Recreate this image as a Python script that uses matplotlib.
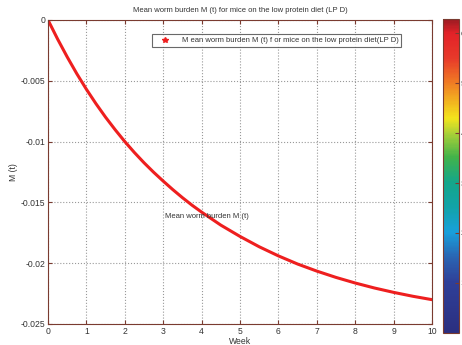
import numpy as np
import matplotlib
matplotlib.use("Agg")
import matplotlib.pyplot as plt
from matplotlib.colors import Normalize, LinearSegmentedColormap
from matplotlib.cm import ScalarMappable

weeks = [0, 0.25, 0.5, 0.75, 1, 1.25, 1.5, 1.75, 2, 2.25, 2.5, 2.75, 3, 3.25, 3.5, 3.75, 4,
         4.5, 5, 5.5, 6, 6.5, 7, 7.5, 8, 8.5, 9, 9.5, 10]
burden = [0, -0.00157, -0.00304, -0.00442, -0.00570, -0.00689, -0.00800, -0.00903,
          -0.01000, -0.01090, -0.01174, -0.01252, -0.01325, -0.01395, -0.01461,
          -0.01523, -0.01580, -0.01687, -0.01780, -0.01865, -0.01940, -0.02007,
          -0.02065, -0.02117, -0.02163, -0.02204, -0.02240, -0.02272, -0.02300]
xticks = [0, 1, 2, 3, 4, 5, 6, 7, 8, 9, 10]
yticks = [0, -0.005, -0.01, -0.015, -0.02, -0.025]
yticklabels = ["0", "-0.005", "-0.01", "-0.015", "-0.02", "-0.025"]
cbar_ticks = [1, 2, 3, 4, 5, 6]

plt.rcParams['font.family'] = ['Liberation Sans', 'DejaVu Sans']
fig = plt.figure(figsize=(4.62, 3.45), dpi=100)
ax = fig.add_axes([0.1039, 0.0609, 0.8312, 0.8812])
spine_c = '#7a3b30'
txt_c = '#333333'

ax.plot(weeks, burden, color='#ee1f1f', lw=2.2, solid_capstyle='round',
        solid_joinstyle='round')
ax.plot([], [], linestyle='none', marker='*', color='#ee1f1f', markersize=4,
        label='M ean worm burden M (t) f or mice on the low protein diet(LP D)')

ax.set_xlim(0, 10)
ax.set_ylim(-0.025, 0)
ax.set_xticks(xticks)
ax.set_yticks(yticks)
ax.set_yticklabels(yticklabels)
ax.grid(True, linestyle=':', color='#999999', lw=0.8)
ax.tick_params(direction='in', length=3, labelsize=6.2, colors=spine_c, labelcolor=txt_c,
               top=True, right=True, pad=2)
for s in ax.spines.values():
    s.set_color(spine_c)
    s.set_linewidth(0.8)

ax.set_title('Mean worm burden M (t) for mice on the low protein diet (LP D)',
             fontsize=5.5, color=txt_c, pad=6)
ax.set_xlabel('Week', fontsize=6.2, color=txt_c, labelpad=1)
ax.set_ylabel('M (t)', fontsize=6.2, color=txt_c, labelpad=2)
ax.text(3.05, -0.0163, 'Mean worm burden M (t)', fontsize=5.5, color=txt_c)

leg = ax.legend(loc='upper right', bbox_to_anchor=(0.93, 0.965), fontsize=5.5,
                frameon=True, fancybox=False, handlelength=2.6, borderpad=0.35,
                labelcolor=txt_c, handletextpad=0.9)
leg.get_frame().set_edgecolor('#444444')
leg.get_frame().set_linewidth(0.8)

cmap = LinearSegmentedColormap.from_list('mjet', [
    (0.0, '#2b2f80'), (0.16, '#2f3f98'), (0.24, '#2a64b2'), (0.32, '#18a0db'),
    (0.40, '#12a3a8'), (0.48, '#14a68a'), (0.56, '#42b34a'), (0.64, '#b2d236'),
    (0.685, '#f4e41c'), (0.80, '#f07a24'), (0.875, '#e83a2a'), (0.955, '#e32228'),
    (1.0, '#9b1b22')])

cax = fig.add_axes([0.959, 0.035, 0.0346, 0.91])
sm = ScalarMappable(norm=Normalize(0, 2 * np.pi), cmap=cmap)
cb = fig.colorbar(sm, cax=cax, ticks=cbar_ticks)
cb.ax.tick_params(direction='in', length=3, labelsize=6, colors=spine_c,
                  labelcolor=txt_c, pad=1)
cb.outline.set_edgecolor(spine_c)
cb.outline.set_linewidth(0.8)

fig.savefig('out.png', dpi=100)
